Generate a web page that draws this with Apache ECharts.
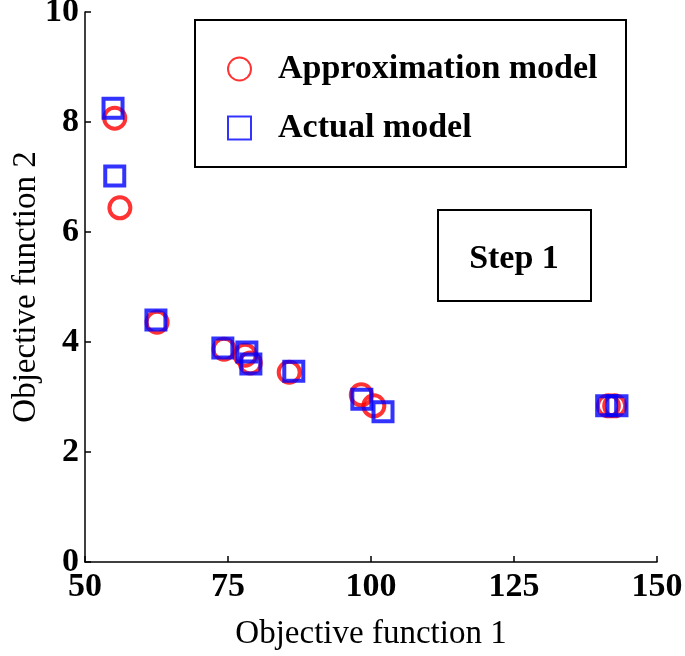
<!DOCTYPE html>
<html>
<head>
<meta charset="utf-8">
<script src="https://cdn.jsdelivr.net/npm/echarts@6/dist/echarts.min.js"></script>
<style>html,body{margin:0;padding:0;background:#fff}#c{width:685px;height:656px}</style>
</head>
<body>
<div id="c"></div>
<script>
const xTicks = [50, 75, 100, 125, 150];
const yTicks = [0, 2, 4, 6, 8, 10];
const approxX = [55.2, 56.1, 62.6, 74.3, 78.0, 78.9, 85.7, 98.3, 100.5, 141.5, 142.6];
const approxY = [8.07, 6.44, 4.36, 3.87, 3.76, 3.62, 3.45, 3.04, 2.84, 2.84, 2.84];
const actualX = [54.9, 55.2, 62.4, 74.1, 78.3, 79.0, 86.5, 98.4, 102.1, 141.2, 143.0];
const actualY = [8.25, 7.02, 4.40, 3.89, 3.82, 3.60, 3.47, 2.96, 2.73, 2.84, 2.84];
const seriesNames = ['Approximation model', 'Actual model'];
const stepLabel = 'Step 1';

const font = 'Liberation Serif';
const chart = echarts.init(document.getElementById('c'));
const zip = (a, b) => a.map((v, i) => [v, b[i]]);
chart.setOption({
  animation: false,
  grid: { left: 85, right: 28, top: 12, bottom: 94, containLabel: false, outerBoundsMode: 'none' },
  xAxis: {
    type: 'value', min: xTicks[0], max: xTicks[xTicks.length - 1], interval: 25,
    name: 'Objective function 1', nameLocation: 'middle', nameGap: 56,
    nameTextStyle: { fontFamily: font, fontSize: 33, color: '#000' },
    axisLine: { lineStyle: { color: '#000', width: 1.5 } },
    axisTick: { inside: true, length: 6, lineStyle: { color: '#000', width: 1.5 } },
    axisLabel: { fontFamily: font, fontSize: 34, fontWeight: 'bold', color: '#000', margin: 8 },
    splitLine: { show: false }
  },
  yAxis: {
    type: 'value', min: yTicks[0], max: yTicks[yTicks.length - 1], interval: 2,
    name: 'Objective function 2', nameLocation: 'middle', nameGap: 42, nameMoveOverlap: false,
    nameTextStyle: { fontFamily: font, fontSize: 33, color: '#000' },
    axisLine: { lineStyle: { color: '#000', width: 1.5 } },
    axisTick: { inside: true, length: 6, lineStyle: { color: '#000', width: 1.5 } },
    axisLabel: { fontFamily: font, fontSize: 34, fontWeight: 'bold', color: '#000', margin: 6 },
    splitLine: { show: false }
  },
  legend: {
    orient: 'vertical', left: 222, top: 47, itemGap: 25,
    itemWidth: 23, itemHeight: 23,
    textStyle: { fontFamily: font, fontSize: 34, fontWeight: 'bold', color: '#000', padding: [0, 0, 0, 22] },
    data: seriesNames
  },
  graphic: [
    { type: 'rect', shape: { x: 195, y: 20, width: 431, height: 147 }, style: { fill: 'none', stroke: '#000', lineWidth: 2 } },
    { type: 'rect', shape: { x: 438, y: 210, width: 153, height: 91 }, style: { fill: 'none', stroke: '#000', lineWidth: 2 } },
    { type: 'text', x: 514, y: 259, style: { text: stepLabel, font: 'bold 34px "Liberation Serif"', fill: '#000', textAlign: 'center', textVerticalAlign: 'middle' } }
  ],
  series: [
    {
      name: seriesNames[0], type: 'scatter', symbol: 'circle', symbolSize: 21,
      itemStyle: { color: 'rgba(0,0,0,0)', borderColor: '#ff0000', borderWidth: 4 },
      data: zip(approxX, approxY)
    },
    {
      name: seriesNames[1], type: 'scatter', symbol: 'rect', symbolSize: 19,
      itemStyle: { color: 'rgba(0,0,0,0)', borderColor: '#0000ff', borderWidth: 4 },
      data: zip(actualX, actualY)
    }
  ]
});
</script>
</body>
</html>
